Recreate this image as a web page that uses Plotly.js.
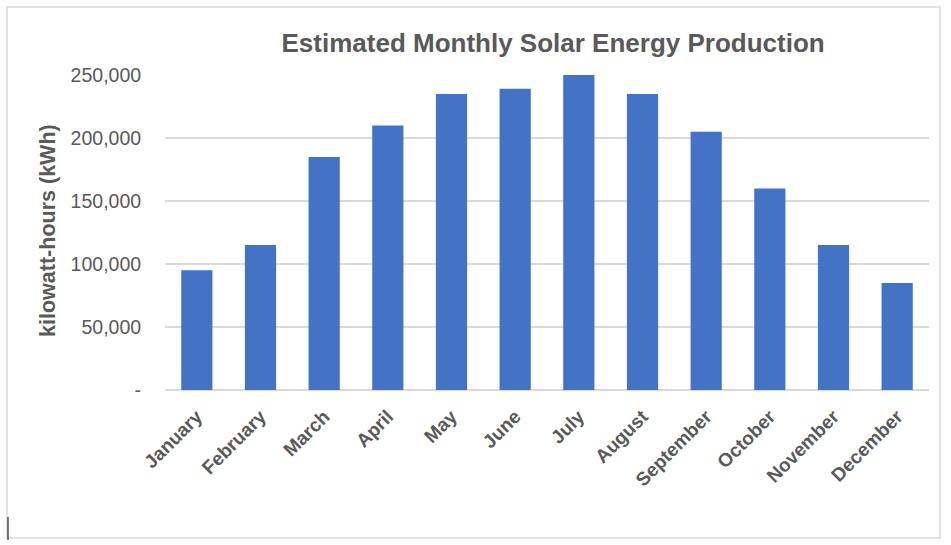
<!DOCTYPE html>
<html>
<head>
<meta charset="utf-8">
<script src="https://cdn.plot.ly/plotly-3.0.1.min.js"></script>
<style>
html,body{margin:0;padding:0;background:#fff;}
#chart{width:951px;height:545px;}
</style>
</head>
<body>
<div id="chart"></div>
<script>
const months = ["January","February","March","April","May","June","July","August","September","October","November","December"];
const production = [95000,115000,185000,210000,235000,239000,250000,235000,205000,160000,115000,85000];
const yTickVals = [0,50000,100000,150000,200000,250000];
const yTickText = ["-","50,000","100,000","150,000","200,000","250,000"];
const chartTitle = "Estimated Monthly Solar Energy Production";
const yTitle = "kilowatt-hours (kWh)";

const FONT = "Liberation Sans, Arial, sans-serif";
const GRAY = "#595959";

const trace = {
  type: "bar",
  x: months,
  y: production,
  marker: {color: "#4472C4"},
  hoverinfo: "x+y"
};

const layout = {
  width: 951,
  height: 545,
  paper_bgcolor: "#fff",
  plot_bgcolor: "#fff",
  margin: {l: 165, r: 22, t: 75, b: 155},
  bargap: 0.51,
  showlegend: false,
  font: {family: FONT, color: GRAY},
  title: {
    text: "<b>" + chartTitle + "</b>",
    font: {size: 26, color: GRAY, family: FONT},
    x: 0.508, xref: "paper", xanchor: "center",
    y: 1 - 43/545, yref: "container", yanchor: "middle",
    automargin: false
  },
  xaxis: {
    type: "category",
    tickangle: -45,
    tickfont: {size: 19, color: GRAY, family: FONT, weight: "bold"},
    showgrid: false,
    showline: false,
    ticks: "outside",
    ticklen: 7,
    tickcolor: "rgba(0,0,0,0)",
    zeroline: false,
    automargin: false
  },
  yaxis: {
    range: [0, 250000],
    tickvals: yTickVals,
    ticktext: yTickText,
    tickfont: {size: 19.5, color: GRAY, family: FONT},
    showgrid: true,
    gridcolor: "#d9d9d9",
    gridwidth: 1.5,
    zeroline: true,
    zerolinecolor: "#d9d9d9",
    zerolinewidth: 1.5,
    ticks: "outside",
    ticklen: 19,
    tickcolor: "rgba(0,0,0,0)",
    showline: false,
    automargin: false
  },
  annotations: [
    {text: "<b>" + yTitle + "</b>", xref: "paper", yref: "paper",
     x: (48 - 165)/764, y: 0.505, xanchor: "center", yanchor: "middle",
     textangle: -90, showarrow: false,
     font: {size: 21.5, color: GRAY, family: FONT}}
  ],
  shapes: [
    {type: "rect", xref: "paper", yref: "paper", x0: -158/764, x1: 775/764, y0: -148/315, y1: 383/315,
     line: {color: "#d9d9d9", width: 1.5}, fillcolor: "rgba(0,0,0,0)", layer: "below"},
    {type: "line", xref: "paper", yref: "paper", x0: -157/764, x1: -157/764, y0: -127/315, y1: -150/315,
     line: {color: "#000", width: 1}}
  ]
};

Plotly.newPlot("chart", [trace], layout, {displayModeBar: false, staticPlot: true});
</script>
</body>
</html>
